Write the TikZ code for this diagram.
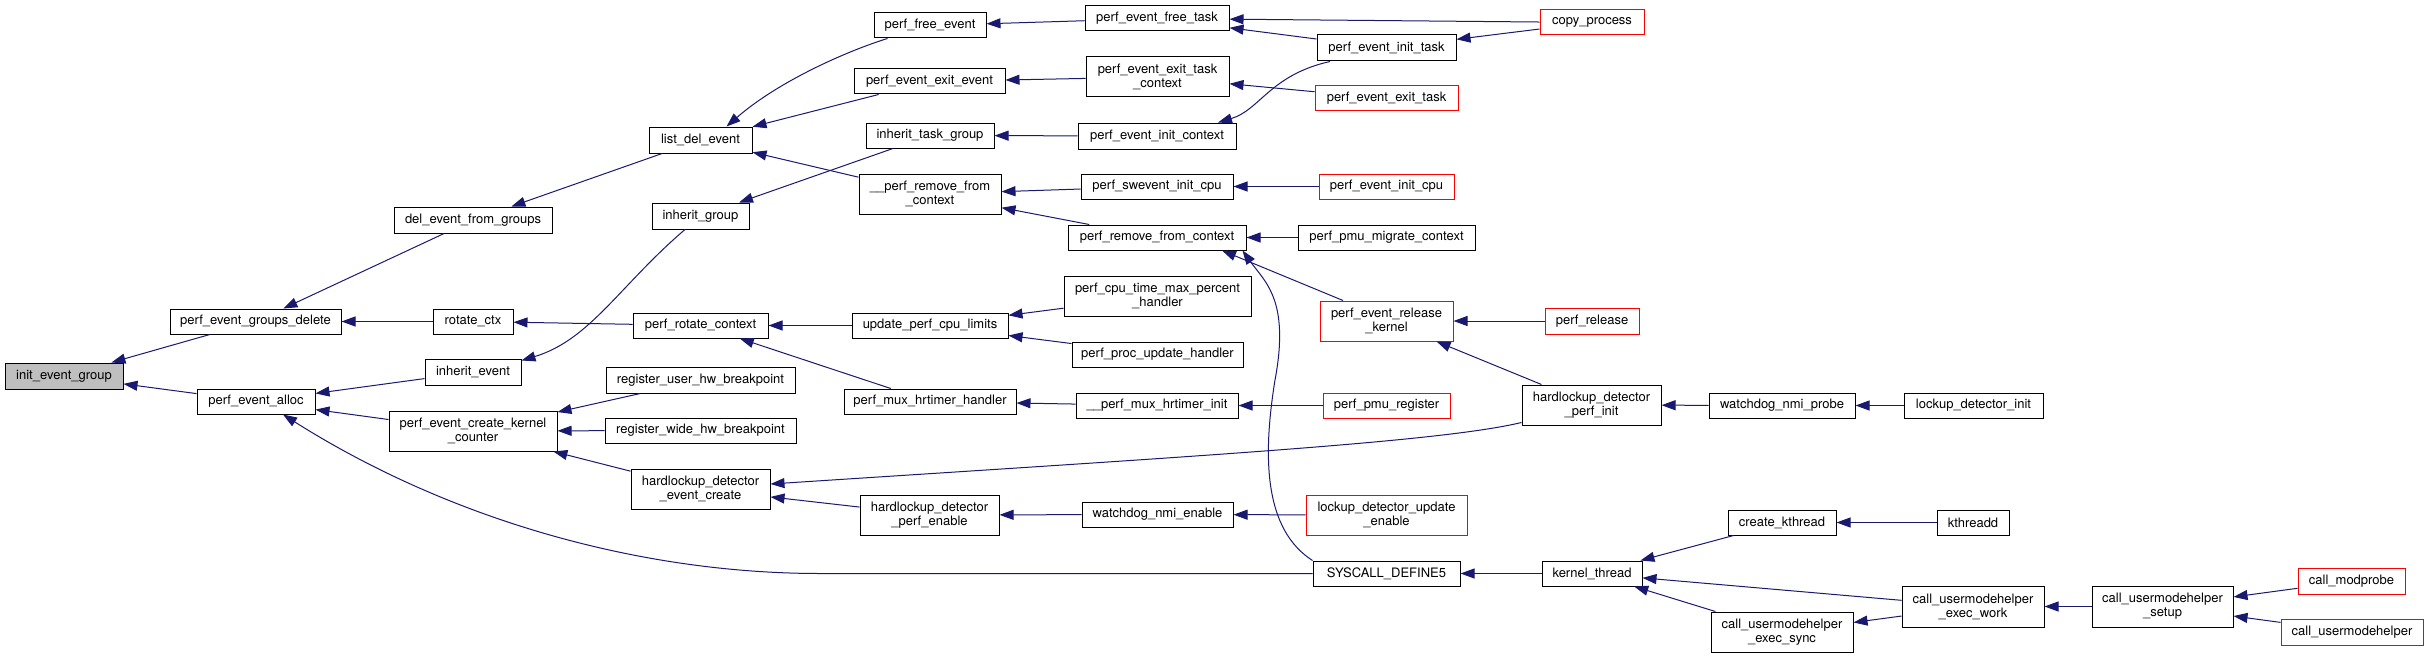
\documentclass[tikz,border=0pt]{standalone}
\usepackage{fontspec}
\setmainfont{TeX Gyre Heros}
\usetikzlibrary{arrows.meta}
\definecolor{navyedge}{HTML}{191970}
\definecolor{curgray}{HTML}{BFBFBF}
\tikzset{
  fn/.style={draw=black, line width=0.5pt, inner sep=0pt, align=center,
             font=\fontsize{6.5}{7}\selectfont, fill=white},
  fnred/.style={fn, draw=red},
  fncur/.style={fn, fill=curgray},
  call/.style={draw=navyedge, line width=0.5pt, -{Triangle[length=7pt,width=5pt]}},
}
\begin{document}
\begin{tikzpicture}[x=0.5pt, y=-0.5pt]
\useasboundingbox (0,0) rectangle (2428,658);
% column 0-1
\node[fncur, minimum width=59pt, minimum height=13pt] (ieg) at (64,376) {init\_event\_group};
\node[fn, minimum width=85.5pt, minimum height=12.5pt] (pegd) at (255.5,321.5) {perf\_event\_groups\_delete};
\node[fn, minimum width=59pt, minimum height=12.5pt] (pea) at (256,401.5) {perf\_event\_alloc};
% column 2
\node[fn, minimum width=79pt, minimum height=13pt] (defg) at (473,220) {del\_event\_from\_groups};
\node[fn, minimum width=40pt, minimum height=12.5pt] (rctx) at (473,321.5) {rotate\_ctx};
\node[fn, minimum width=48pt, minimum height=13pt] (ie) at (473,372) {inherit\_event};
\node[fn, minimum width=84pt, minimum height=20pt] (peckc) at (473,431) {perf\_event\_create\_kernel\\\_counter};
% column 3
\node[fn, minimum width=51.5pt, minimum height=13pt] (lde) at (700.5,140) {list\_del\_event};
\node[fn, minimum width=48.5pt, minimum height=13pt] (ig) at (700.5,216) {inherit\_group};
\node[fn, minimum width=67.5pt, minimum height=12.5pt] (prc) at (700.5,325.5) {perf\_rotate\_context};
\node[fn, minimum width=94.5pt, minimum height=13pt] (ruhb) at (700.5,380) {register\_user\_hw\_breakpoint};
\node[fn, minimum width=95.5pt, minimum height=12.5pt] (rwhb) at (700.5,430.5) {register\_wide\_hw\_breakpoint};
\node[fn, minimum width=69.5pt, minimum height=20pt] (hdec) at (700.5,489) {hardlockup\_detector\\\_event\_create};
% column 4
\node[fn, minimum width=56pt, minimum height=12.5pt] (pfe) at (930,25.5) {perf\_free\_event};
\node[fn, minimum width=75.5pt, minimum height=12.5pt] (peee) at (929.5,81.5) {perf\_event\_exit\_event};
\node[fn, minimum width=64pt, minimum height=12.5pt] (itg) at (930,135.5) {inherit\_task\_group};
\node[fn, minimum width=71pt, minimum height=20pt] (uprfc) at (930,194) {\_\_perf\_remove\_from\\\_context};
\node[fn, minimum width=78pt, minimum height=12.5pt] (upcl) at (930,325.5) {update\_perf\_cpu\_limits};
\node[fn, minimum width=86pt, minimum height=12.5pt] (pmhh) at (930,401.5) {perf\_mux\_hrtimer\_handler};
\node[fn, minimum width=69.5pt, minimum height=20pt] (hdpe) at (929.5,515) {hardlockup\_detector\\\_perf\_enable};
% column 5
\node[fn, minimum width=72pt, minimum height=12.5pt] (peft) at (1157,18.5) {perf\_event\_free\_task};
\node[fn, minimum width=71.5pt, minimum height=20pt] (peetc) at (1157.5,77) {perf\_event\_exit\_task\\\_context};
\node[fn, minimum width=79pt, minimum height=13pt] (peic) at (1157,136) {perf\_event\_init\_context};
\node[fn, minimum width=76pt, minimum height=12.5pt] (psic) at (1157,186.5) {perf\_swevent\_init\_cpu};
\node[fn, minimum width=89pt, minimum height=12.5pt] (prfc) at (1157,237.5) {perf\_remove\_from\_context};
\node[fn, minimum width=93.5pt, minimum height=20pt] (pctmph) at (1157.5,296) {perf\_cpu\_time\_max\_percent\\\_handler};
\node[fn, minimum width=85.5pt, minimum height=12.5pt] (ppuh) at (1157.5,354.5) {perf\_proc\_update\_handler};
\node[fn, minimum width=81pt, minimum height=12.5pt] (upmhi) at (1157,405.5) {\_\_perf\_mux\_hrtimer\_init};
\node[fn, minimum width=75.5pt, minimum height=12.5pt] (wne) at (1157.5,514.5) {watchdog\_nmi\_enable};
% column 6
\node[fn, minimum width=69.5pt, minimum height=13pt] (peit) at (1386.5,48) {perf\_event\_init\_task};
\node[fnred, minimum width=71.5pt, minimum height=12.5pt] (peet) at (1386.5,98.5) {perf\_event\_exit\_task};
\node[fnred, minimum width=67.5pt, minimum height=12.5pt] (peicpu) at (1386.5,186.5) {perf\_event\_init\_cpu};
\node[fn, minimum width=88.5pt, minimum height=12.5pt] (ppmc) at (1386.5,237.5) {perf\_pmu\_migrate\_context};
\node[fnred, minimum width=66.5pt, minimum height=20pt] (perk) at (1386.5,321) {perf\_event\_release\\\_kernel};
\node[fnred, minimum width=63.5pt, minimum height=12.5pt] (ppr) at (1386.5,405.5) {perf\_pmu\_register};
\node[fnred, minimum width=80.5pt, minimum height=20pt] (ldue) at (1386.5,515) {lockup\_detector\_update\\\_enable};
\node[fn, minimum width=73.5pt, minimum height=12.5pt] (sd5) at (1386.5,573.5) {SYSCALL\_DEFINE5};
% column 7
\node[fnred, minimum width=52pt, minimum height=12.5pt] (cp) at (1592,22.5) {copy\_process};
\node[fnred, minimum width=47pt, minimum height=13pt] (pr) at (1592,321) {perf\_release};
\node[fn, minimum width=69.5pt, minimum height=20pt] (hdpi) at (1591.5,405) {hardlockup\_detector\\\_perf\_init};
\node[fn, minimum width=50pt, minimum height=12.5pt] (kt) at (1592,573.5) {kernel\_thread};
% column 8
\node[fn, minimum width=73pt, minimum height=12.5pt] (wnp) at (1782,405.5) {watchdog\_nmi\_probe};
\node[fn, minimum width=54pt, minimum height=12.5pt] (ck) at (1782,522.5) {create\_kthread};
\node[fn, minimum width=71pt, minimum height=20pt] (cues) at (1782,632) {call\_usermodehelper\\\_exec\_sync};
% column 9
\node[fn, minimum width=69.5pt, minimum height=12.5pt] (ldi) at (1973.5,405.5) {lockup\_detector\_init};
\node[fn, minimum width=36pt, minimum height=12.5pt] (kd) at (1973,522.5) {kthreadd};
\node[fn, minimum width=71pt, minimum height=20.5pt] (cuew) at (1973,606.5) {call\_usermodehelper\\\_exec\_work};
% column 10-11
\node[fn, minimum width=70.5pt, minimum height=20.5pt] (cus) at (2162.5,606.5) {call\_usermodehelper\\\_setup};
\node[fnred, minimum width=53.5pt, minimum height=13pt] (cm) at (2351.5,581) {call\_modprobe};
\node[fnred, minimum width=71pt, minimum height=13pt] (cu) at (2352,632) {call\_usermodehelper};

% edges (caller -> callee)
\draw[call] (pegd) -- (ieg);
\draw[call] (pea) -- (ieg);
\draw[call] (defg) -- (pegd);
\draw[call] (rctx) -- (pegd);
\draw[call] (ie) -- (pea);
\draw[call] (peckc) -- (pea);
\draw[call] (sd5.west) -- (820,573.5) .. controls (640,573.5) and (450,520) .. ([xshift=13.5pt]pea.south);
\draw[call] (lde) -- (defg);
\draw[call] (prc) -- (rctx);
\draw[call] ([xshift=-7.75pt]ig.south) .. controls (620,285) and (590,340) .. ([yshift=-1pt]ie.north east);
\draw[call] (ruhb) -- (peckc);
\draw[call] (rwhb) -- (peckc);
\draw[call] (hdec) -- (peckc);
\draw[call] ([xshift=7pt]pfe.south west) .. controls (850,50) and (780,80) .. ([xshift=13pt]lde.north);
\draw[call] (peee) -- (lde);
\draw[call] (uprfc) -- (lde);
\draw[call] (itg) -- (ig);
\draw[call] (upcl) -- (prc);
\draw[call] (pmhh) -- (prc);
\draw[call] ([yshift=1.5pt]hdpi.south west) .. controls (1440,442) and (1200,456) .. ([yshift=2.5pt]hdec.east);
\draw[call] (hdpe) -- (hdec);
\draw[call] (peft) -- (pfe);
\draw[call] (peetc) -- (peee);
\draw[call] (peic) -- (itg);
\draw[call] (psic) -- (uprfc);
\draw[call] (prfc) -- (uprfc);
\draw[call] (pctmph) -- (upcl);
\draw[call] (ppuh) -- (upcl);
\draw[call] (upmhi) -- (pmhh);
\draw[call] (wne) -- (hdpe);
\draw[call] (cp) -- (peft);
\draw[call] (peit) -- (peft);
\draw[call] (peet) -- (peetc);
\draw[call] ([xshift=-28.25pt]peit.south) .. controls (1270,75) and (1260,110) .. ([xshift=30.5pt]peic.north);
\draw[call] (peicpu) -- (psic);
\draw[call] (ppmc) -- (prfc);
\draw[call] ([xshift=-21.75pt]perk.north) -- ([xshift=32.5pt]prfc.south);
\draw[call] (sd5.north west) .. controls (1265,530) and (1262,460) .. (1275,380) .. controls (1290,300) and (1265,282) .. ([xshift=-2pt]prfc.south east);
\draw[call] (ppr) -- (upmhi);
\draw[call] (ldue) -- (wne);
\draw[call] (cp) -- (peit);
\draw[call] (pr) -- (perk);
\draw[call] (hdpi) -- (perk);
\draw[call] (kt) -- (sd5);
\draw[call] (wnp) -- (hdpi);
\draw[call] (ldi) -- (wnp);
\draw[call] (ck) -- (kt);
\draw[call] (cuew) -- (kt);
\draw[call] (cues) -- (kt);
\draw[call] (kd) -- (ck);
\draw[call] (cuew) -- (cues);
\draw[call] (cus) -- (cuew);
\draw[call] (cm) -- (cus);
\draw[call] (cu) -- (cus);
\end{tikzpicture}
\end{document}
